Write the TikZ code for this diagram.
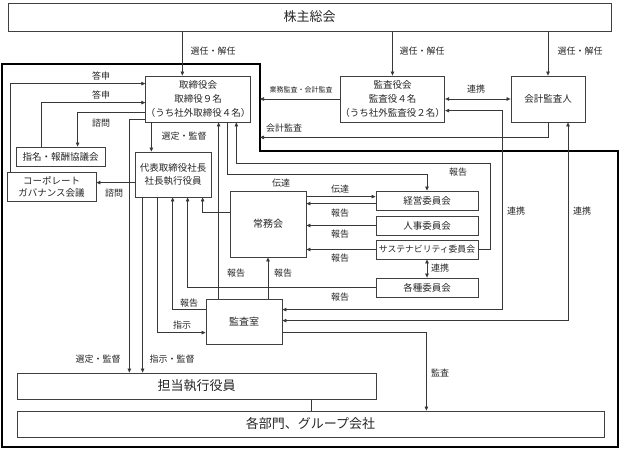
\documentclass[tikz,border=0pt]{standalone}
\usepackage{fontspec}
\setmainfont{Noto Sans CJK JP}
\usetikzlibrary{arrows.meta,calc}
\newcommand\fsz[2]{\fontsize{#1}{#2}\selectfont}
\tikzset{
  box/.style={draw=black!75, line width=0.8pt, inner sep=0pt, align=center, fill=white, text=black!85, font=\fsz{9.5}{14}},
  lbl/.style={inner sep=0pt, text=black!85, font=\fsz{9}{11}},
  conn/.style={draw=black!78, line width=0.75pt},
  arr/.style={conn, -{Triangle[length=4pt,width=3.5pt]}},
  darr/.style={conn, {Triangle[length=4pt,width=3.5pt]}-{Triangle[length=4pt,width=3.5pt]}},
  outline/.style={draw=black, line width=1.6pt}
}
\begin{document}
\begin{tikzpicture}[x=1pt,y=-1pt]
\useasboundingbox (0,0) rectangle (620,449);

% outer thick region
\coordinate (o1) at (2,64);
\coordinate (o2) at (260,64);
\coordinate (o3) at (260,151);
\coordinate (o4) at (618,151);
\coordinate (o5) at (618,447);
\coordinate (o6) at (2,447);
\draw[outline] (o1) -- (o2) -- (o3) -- (o4) -- (o5) -- (o6) -- cycle;

% boxes
\node[box, minimum width=603pt, minimum height=28pt, font=\fsz{13}{15}] (kabu) at (309.5,17) {株主総会};
\node[box, minimum width=102pt, minimum height=46pt] (tori) at (198,99) {取締役会\\取締役９名\\（うち社外取締役４名）};
\node[box, minimum width=103pt, minimum height=46pt] (kansa) at (392.5,99) {監査役会\\監査役４名\\（うち社外監査役２名）};
\node[box, minimum width=74pt, minimum height=46pt] (kaikei) at (548,99) {会計監査人};
\node[box, minimum width=89pt, minimum height=19pt] (shimei) at (60.5,156.5) {指名・報酬協議会};
\node[box, minimum width=89pt, minimum height=29pt, font=\fsz{9.5}{12}] (cg) at (51.5,186.5) {コーポレート\\ガバナンス会議};
\node[box, minimum width=76pt, minimum height=45pt, font=\fsz{9.5}{12.5}] (daihyo) at (173,174.5) {代表取締役社長\\社長執行役員};
\node[box, minimum width=76pt, minimum height=66pt, font=\fsz{10}{12}] (jomu) at (268,224) {常務会};
\node[box, minimum width=102pt, minimum height=19pt] (keiei) at (427,200.5) {経営委員会};
\node[box, minimum width=102pt, minimum height=19pt] (jinji) at (427,225.5) {人事委員会};
\node[box, minimum width=102pt, minimum height=19pt, font=\fsz{8.8}{11}] (sus) at (427,249.5) {サステナビリティ委員会};
\node[box, minimum width=102pt, minimum height=19pt] (kakushu) at (427,287.5) {各種委員会};
\node[box, minimum width=76pt, minimum height=45pt, font=\fsz{10}{12}] (ks) at (244,321.5) {監査室};
\node[box, minimum width=359pt, minimum height=26pt, font=\fsz{13}{15}] (tanto) at (196.5,386) {担当執行役員};
\node[box, minimum width=587pt, minimum height=26pt, font=\fsz{13}{15}] (kakubu) at (310.5,424) {各部門、グループ会社};

% shareholders -> bodies
\coordinate (a1) at ([xshift=37pt]tori.north west);
\draw[arr] (kabu.south -| a1) -- (a1);
\draw[arr] (kabu.south -| kansa.north) -- (kansa.north);
\draw[arr] (kabu.south -| kaikei.north) -- (kaikei.north);
\node[lbl] (l1) at (213,51) {選任・解任};
\node[lbl] (l2) at (422,51) {選任・解任};
\node[lbl] (l3) at (580,51) {選任・解任};

% audit board / accounting auditor
\draw[arr] (kansa.west) -- (kansa.west -| o2);
\node[lbl, font=\fsz{7}{9}] (l4) at (301,90) {業務監査・会計監査};
\draw[darr] (kansa.east) -- (kaikei.west);
\node[lbl] (l5) at (476,89) {連携};
\draw[arr] (kaikei.south) -- ++(0,15) coordinate (k1) -- (k1 -| o2);
\node[lbl, anchor=west] (l6) at (266,128) {会計監査};

% left side committees
\coordinate (a4) at ([yshift=-8pt]tori.north west);
\coordinate (a5) at ([yshift=-27pt]tori.north west);
\coordinate (a6) at ([yshift=-37pt]tori.north west);
\draw[arr] ([xshift=4pt]cg.north west) |- (a4);
\draw[arr] ([xshift=26pt]shimei.north west) |- (a5);
\draw[arr] (a6) -| ([xshift=62pt]shimei.north west);
\node[lbl] (l7) at (101,76) {答申};
\node[lbl] (l8) at (101,95) {答申};
\node[lbl] (l9) at (101,123) {諮問};

\coordinate (a7) at ([xshift=6pt]tori.south west);
\draw[arr] (a7) -- (a7 |- daihyo.north);
\node[lbl] (l10) at (184,136) {選定・監督};

\coordinate (a9) at ([yshift=-31pt]daihyo.north west);
\draw[arr] (a9) -- (a9 -| cg.east);
\node[lbl] (l11) at (114,193) {諮問};

% to 担当執行役員
\draw[arr] ([yshift=3pt]tori.south west) -- ++(-16,0) coordinate (a8) -- (a8 |- tanto.north);
\coordinate (b1) at ([xshift=8pt]daihyo.south west);
\draw[arr] (b1) -- (b1 |- tanto.north);
\node[lbl] (l12) at (98,359) {選定・監督};
\node[lbl] (l13) at (172,359) {指示・監督};

% 代表 <-> 監査室 etc.
\draw[arr] ([xshift=23pt]daihyo.south west) |- ([yshift=-34pt]ks.north west);
\node[lbl] (l14) at (182,325) {指示};
\draw[arr] ([yshift=-11pt]ks.north west) -| ([xshift=38pt]daihyo.south west);
\node[lbl] (l15) at (189,303) {報告};
\draw[arr] (kakushu.west) -| ([xshift=53pt]daihyo.south west);
\node[lbl] (l24) at (340,297) {報告};
\draw[arr] ([yshift=-22pt]jomu.north west) -| ([xshift=68pt]daihyo.south west);

% 監査室 -> 取締役会 / 常務会
\coordinate (c1) at ([xshift=13pt]ks.north west);
\draw[arr] (c1) -- (c1 |- tori.south);
\node[lbl] (l16) at (236,273) {報告};
\draw[arr] (ks.north -| jomu.south) -- (jomu.south);
\node[lbl] (l17) at (283,273) {報告};

% 取締役会 -> 経営委員会
\draw[arr] ([xshift=82pt]tori.south west) -- ++(0,52) -| (keiei.north);
\node[lbl] (l18) at (281,183) {伝達};

% サステナビリティ委員会 -> 取締役会
\coordinate (d2) at ([xshift=91pt,yshift=-41pt]tori.south west);
\draw[arr] (sus.east) -- ++(12,0) |- (d2) -- (d2 |- tori.south);
\node[lbl] (l19) at (458,172) {報告};

% 常務会 <-> committees
\coordinate (e1) at ([yshift=-6pt]jomu.north east);
\draw[arr] (e1) -- (e1 -| keiei.west);
\node[lbl] (l20) at (340,189) {伝達};
\coordinate (e2) at ([yshift=-13pt]keiei.north west);
\draw[arr] (e2) -- (e2 -| jomu.east);
\node[lbl] (l21) at (340,213) {報告};
\draw[arr] (jinji.west) -- (jinji.west -| jomu.east);
\node[lbl] (l22) at (340,234) {報告};
\draw[arr] (sus.west) -- (sus.west -| jomu.east);
\node[lbl] (l23) at (340,258) {報告};
\draw[darr] (sus.south) -- (kakushu.north);
\node[lbl, anchor=west] (l25) at (431,268) {連携};

% 監査室 <-> 監査役会 / 会計監査人
\draw[darr] ([yshift=-11pt]ks.north east) -- ++(220,0) |- ([yshift=-35pt]kansa.north east);
\node[lbl] (l26) at (516,211) {連携};
\draw[darr] ([yshift=-22pt]ks.north east) -| ([xshift=20pt]kaikei.south);
\node[lbl] (l27) at (582,211) {連携};
\draw[arr] ([yshift=-34pt]ks.north east) -| ([xshift=-178pt]kakubu.north east);
\node[lbl] (l28) at (440,373) {監査};

% 担当 -- 各部門
\coordinate (f1) at ([xshift=-65pt]tanto.south east);
\draw[conn] (f1) -- (f1 |- kakubu.north);
\end{tikzpicture}
\end{document}
